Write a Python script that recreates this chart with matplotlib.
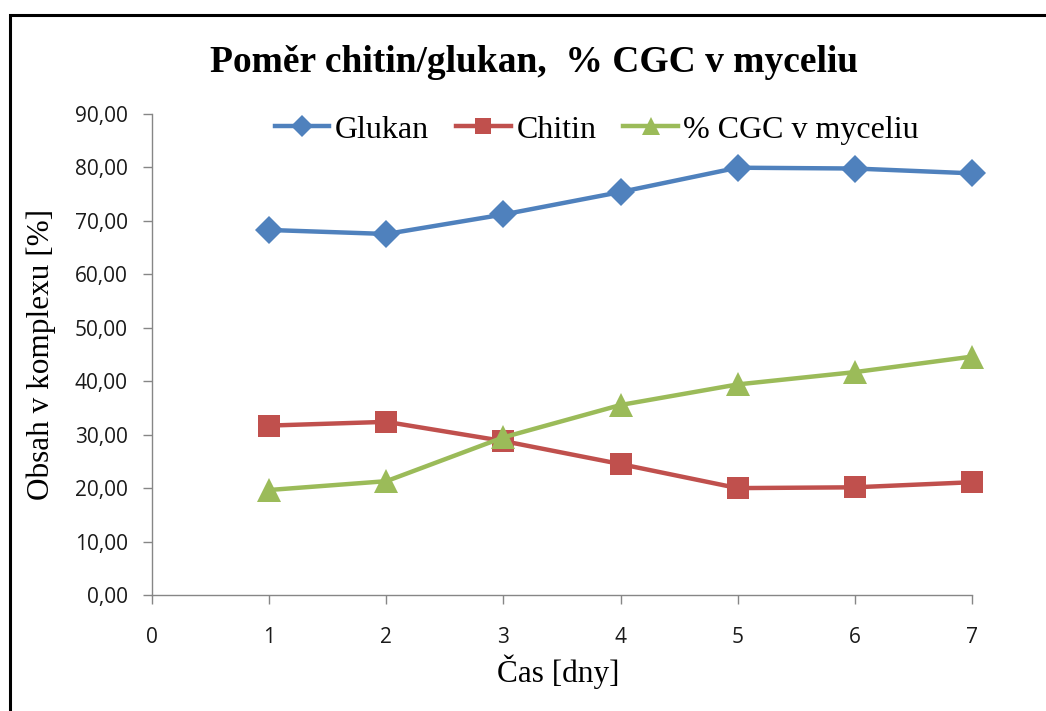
import matplotlib
matplotlib.use("Agg")
import matplotlib.pyplot as plt
from matplotlib.patches import Rectangle
from matplotlib.ticker import FixedLocator, FuncFormatter

# Sampling days and measured contents [%]
days = [1, 2, 3, 4, 5, 6, 7]
glukan = [68.3, 67.55, 71.2, 75.4, 79.95, 79.8, 78.9]
chitin = [31.7, 32.4, 28.8, 24.5, 20.0, 20.15, 21.1]
cgc = [19.65, 21.3, 29.5, 35.55, 39.4, 41.7, 44.6]

series_names = ["Glukan", "Chitin", "% CGC v myceliu"]
colors = ["#4F81BD", "#C0504D", "#9BBB59"]

x_ticks = [0, 1, 2, 3, 4, 5, 6, 7]
y_ticks = [0, 10, 20, 30, 40, 50, 60, 70, 80, 90]

title = "Poměr chitin/glukan,  % CGC v myceliu"
x_title = "Čas [dny]"
y_title = "Obsah v komplexu [%]"

serif = "Liberation Serif"
sans = "Open Sans"

W, H = 1046, 711
fig = plt.figure(figsize=(W / 100, H / 100), dpi=100)
fig.patch.set_facecolor("white")

ax = fig.add_axes([152.3 / W, 1 - 595 / H, (971.7 - 152.3) / W, (595 - 114) / H])
ax.set_xlim(0, 7)
ax.set_ylim(0, 90)

styles = [("D", 14.5), ("s", 15.5), ("^", 17)]
for vals, name, col, (mk, ms) in zip([glukan, chitin, cgc], series_names, colors, styles):
    ax.plot(days, vals, color=col, lw=3.2, marker=mk, ms=ms, mec=col, mew=0,
            label=name, solid_joinstyle="round", clip_on=False, zorder=3)

for side in ("top", "right"):
    ax.spines[side].set_visible(False)
for side in ("left", "bottom"):
    ax.spines[side].set_color("#868686")
    ax.spines[side].set_linewidth(1.0)

ax.xaxis.set_major_locator(FixedLocator(x_ticks))
ax.yaxis.set_major_locator(FixedLocator(y_ticks))
ax.yaxis.set_major_formatter(FuncFormatter(lambda v, p: f"{v:.2f}".replace(".", ",")))
ax.xaxis.set_major_formatter(FuncFormatter(lambda v, p: f"{int(v)}"))
ax.tick_params(axis="both", direction="out", length=6.5, width=1.0, color="#868686",
               labelsize=15, labelcolor="#1a1a1a")
ax.tick_params(axis="y", pad=11)
ax.tick_params(axis="x", pad=16.5)
for lbl in ax.get_xticklabels() + ax.get_yticklabels():
    lbl.set_fontfamily(sans)

ax.set_xlabel(x_title, fontfamily=serif, fontsize=22.5)
ax.set_ylabel(y_title, fontfamily=serif, fontsize=22.5)
ax.xaxis.label.set_va("center")
ax.yaxis.label.set_va("center")
ax.xaxis.set_label_coords(0.496, (595 - 672) / 481)
ax.yaxis.set_label_coords((41 - 152.3) / 819.4, 0.5)

fig.text(534 / W, 1 - 62 / H, title, fontfamily=serif, fontsize=27,
         fontweight="bold", ha="center", va="center")

leg = ax.legend(loc="center", bbox_to_anchor=(597 / W, 1 - 130 / H),
                bbox_transform=fig.transFigure, ncol=3, frameon=False,
                prop={"family": serif, "size": 23}, handlelength=1.7,
                handletextpad=0.18, columnspacing=0.85, markerscale=0.75,
                borderpad=0.2)

fig.add_artist(Rectangle((10 / W, -0.05), 1.1, 1 - 15 / H + 0.05,
                         transform=fig.transFigure, fill=False,
                         edgecolor="black", lw=2.2, clip_on=False))

fig.savefig("out.png", dpi=100)
